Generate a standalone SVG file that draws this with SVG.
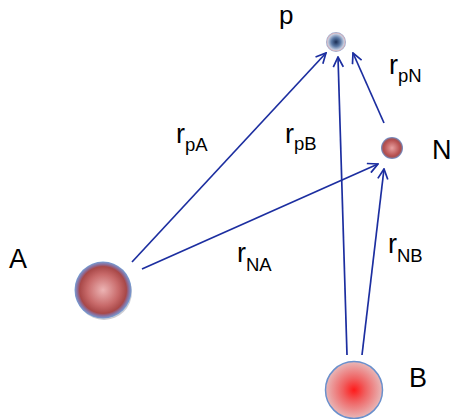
<svg xmlns="http://www.w3.org/2000/svg" width="452" height="419" viewBox="0 0 452 419">
<style>
.lbl{font-family:"Liberation Sans","DejaVu Sans",sans-serif;font-size:27px;fill:#000}
.sub{font-size:18.5px}
.con{stroke:#1c2ea0;stroke-width:1.7;fill:none;marker-end:url(#ah)}
</style>
<defs>
<marker id="ah" viewBox="0 0 12 12" refX="11" refY="6" markerWidth="12" markerHeight="12" markerUnits="userSpaceOnUse" orient="auto">
<polyline points="1,1 11,6 1,11" fill="none" stroke="#1c2ea0" stroke-width="1.7"/>
</marker>
<radialGradient id="gp" cx="50%" cy="50%" r="50%">
<stop offset="0" stop-color="#1a2e55"/>
<stop offset="0.45" stop-color="#5c7aa6"/>
<stop offset="0.8" stop-color="#c4cde0"/>
<stop offset="0.9" stop-color="#d8b4bc"/>
<stop offset="1" stop-color="#7d9fd0"/>
</radialGradient>
<radialGradient id="gn" cx="50%" cy="50%" r="50%">
<stop offset="0" stop-color="#e8a0a0"/>
<stop offset="0.7" stop-color="#b85252"/>
<stop offset="0.82" stop-color="#a85050"/>
<stop offset="1" stop-color="#6f98d4"/>
</radialGradient>
<radialGradient id="ga" cx="50%" cy="50%" r="50%">
<stop offset="0" stop-color="#ecb4b4"/>
<stop offset="0.55" stop-color="#c86a6a"/>
<stop offset="0.82" stop-color="#a84848"/>
<stop offset="0.9" stop-color="#8c6c98"/>
<stop offset="1" stop-color="#74a0d8"/>
</radialGradient>
<radialGradient id="gb" cx="50%" cy="50%" r="50%">
<stop offset="0" stop-color="#ff1a1a"/>
<stop offset="0.4" stop-color="#f06060"/>
<stop offset="1" stop-color="#e8b8b8"/>
</radialGradient>
</defs>
<g id="connectors">
<line class="con" x1="132" y1="262" x2="326" y2="53"/>
<line class="con" x1="142" y1="269" x2="378" y2="164"/>
<line class="con" x1="347" y1="355" x2="338" y2="57"/>
<line class="con" x1="362" y1="355" x2="384" y2="169"/>
<line class="con" x1="384" y1="123" x2="353" y2="53"/>
</g>
<g id="node-p">
<circle cx="336" cy="42" r="10" fill="url(#gp)"/>
<text class="lbl" x="279" y="24" style="font-size:26px">p</text>
</g>
<g id="node-N">
<circle cx="392" cy="148" r="11" fill="url(#gn)"/>
<text class="lbl" x="432" y="159">N</text>
</g>
<g id="node-A">
<circle cx="104" cy="292" r="28" fill="#9a9aa8" opacity="0.5"/>
<circle cx="103" cy="290" r="28.5" fill="url(#ga)"/>
<text class="lbl" x="9" y="268">A</text>
</g>
<g id="node-B">
<circle cx="354" cy="390" r="28.5" fill="url(#gb)" stroke="#6a90cc" stroke-width="1.5"/>
<text class="lbl" x="409" y="387">B</text>
</g>
<g id="labels">
<text class="lbl" x="176" y="143">r<tspan class="sub" dy="8">pA</tspan></text>
<text class="lbl" x="285" y="143">r<tspan class="sub" dy="7">pB</tspan></text>
<text class="lbl" x="237" y="262">r<tspan class="sub" dy="9">NA</tspan></text>
<text class="lbl" x="388" y="253">r<tspan class="sub" dy="9">NB</tspan></text>
<text class="lbl" x="389" y="74">r<tspan class="sub" dy="8">pN</tspan></text>
</g>
</svg>
